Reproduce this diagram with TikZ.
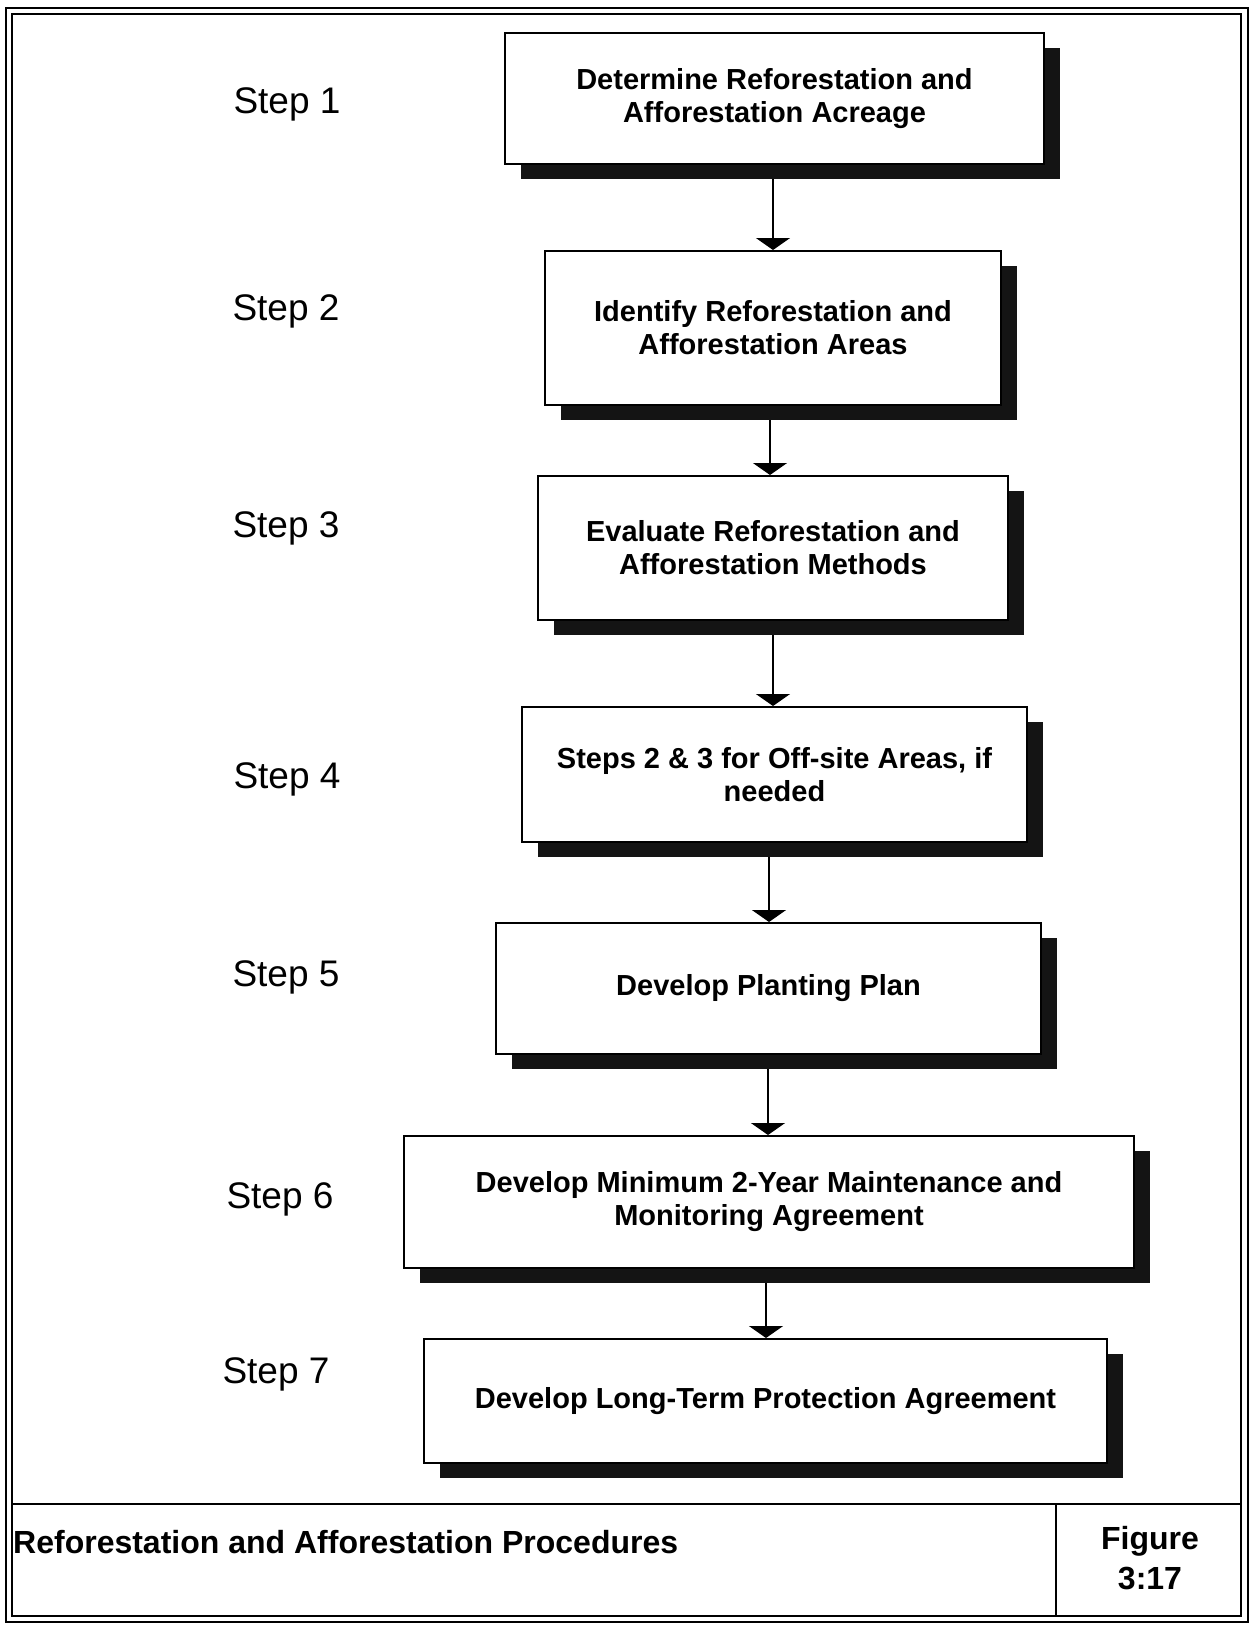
\documentclass[tikz,border=0pt]{standalone}
\usepackage{fontspec}
\setmainfont{Liberation Sans}
\usetikzlibrary{arrows.meta,shadows}
\tikzset{
  stepbox/.style={draw=black, line width=2pt, fill=white, align=center,
    font=\fontsize{29}{33}\selectfont\bfseries, inner sep=0pt,
    drop shadow={shadow xshift=16pt, shadow yshift=-15pt, fill=black!92, opacity=1}},
  steplabel/.style={font=\fontsize{37}{41}\selectfont, inner sep=0pt},
  arr/.style={line width=1.3pt, -{Triangle[width=34pt,length=12pt]}},
  frame/.style={line width=2pt},
  titletext/.style={font=\fontsize{32}{40}\selectfont\bfseries, inner sep=0pt}
}
\begin{document}
\begin{tikzpicture}[x=1pt,y=-1pt]
\useasboundingbox (0,0) rectangle (1251,1627);
\fill[white] (0,0) rectangle (1251,1627);
% frame
\draw[frame] (6,8) rectangle (1248,1622);
\draw[frame] (12,14) rectangle (1241,1616);
\draw[frame] (12,1504) -- (1241,1504);
\draw[frame] (1056,1504) -- (1056,1616);
% boxes
\node[stepbox, minimum width=539pt, minimum height=131pt] (b1) at (774.5,98.5) {Determine Reforestation and\\Afforestation Acreage};
\node[stepbox, minimum width=456pt, minimum height=154pt] (b2) at (773,328) {Identify Reforestation and\\Afforestation Areas};
\node[stepbox, minimum width=470pt, minimum height=144pt] (b3) at (773,548) {Evaluate Reforestation and\\Afforestation Methods};
\node[stepbox, minimum width=505pt, minimum height=135pt] (b4) at (774.5,774.5) {Steps 2 \& 3 for Off-site Areas, if\\needed};
\node[stepbox, minimum width=545pt, minimum height=131pt] (b5) at (768.5,988.5) {Develop Planting Plan};
\node[stepbox, minimum width=730pt, minimum height=132pt] (b6) at (769,1202) {Develop Minimum 2-Year Maintenance and\\Monitoring Agreement};
\node[stepbox, minimum width=683pt, minimum height=124pt] (b7) at (765.5,1401) {Develop Long-Term Protection Agreement};
% arrows
\coordinate (a1) at (773,179);
\coordinate (a2) at (770,420);
\coordinate (a3) at (773,635);
\coordinate (a4) at (769,857);
\coordinate (a5) at (768,1069);
\coordinate (a6) at (766,1283);
\draw[arr] (a1) -- (a1 |- b2.north);
\draw[arr] (a2) -- (a2 |- b3.north);
\draw[arr] (a3) -- (a3 |- b4.north);
\draw[arr] (a4) -- (a4 |- b5.north);
\draw[arr] (a5) -- (a5 |- b6.north);
\draw[arr] (a6) -- (a6 |- b7.north);
% step labels
\node[steplabel] (s1) at (287,104) {Step 1};
\node[steplabel] (s2) at (286,311) {Step 2};
\node[steplabel] (s3) at (286,528) {Step 3};
\node[steplabel] (s4) at (287,779) {Step 4};
\node[steplabel] (s5) at (286,977) {Step 5};
\node[steplabel] (s6) at (280,1199) {Step 6};
\node[steplabel] (s7) at (276,1374) {Step 7};
% title block
\node[titletext, anchor=west] (title) at (13,1542) {Reforestation and Afforestation Procedures};
\node[titletext, align=center] (fig) at (1150,1558) {Figure\\3:17};
\end{tikzpicture}
\end{document}
